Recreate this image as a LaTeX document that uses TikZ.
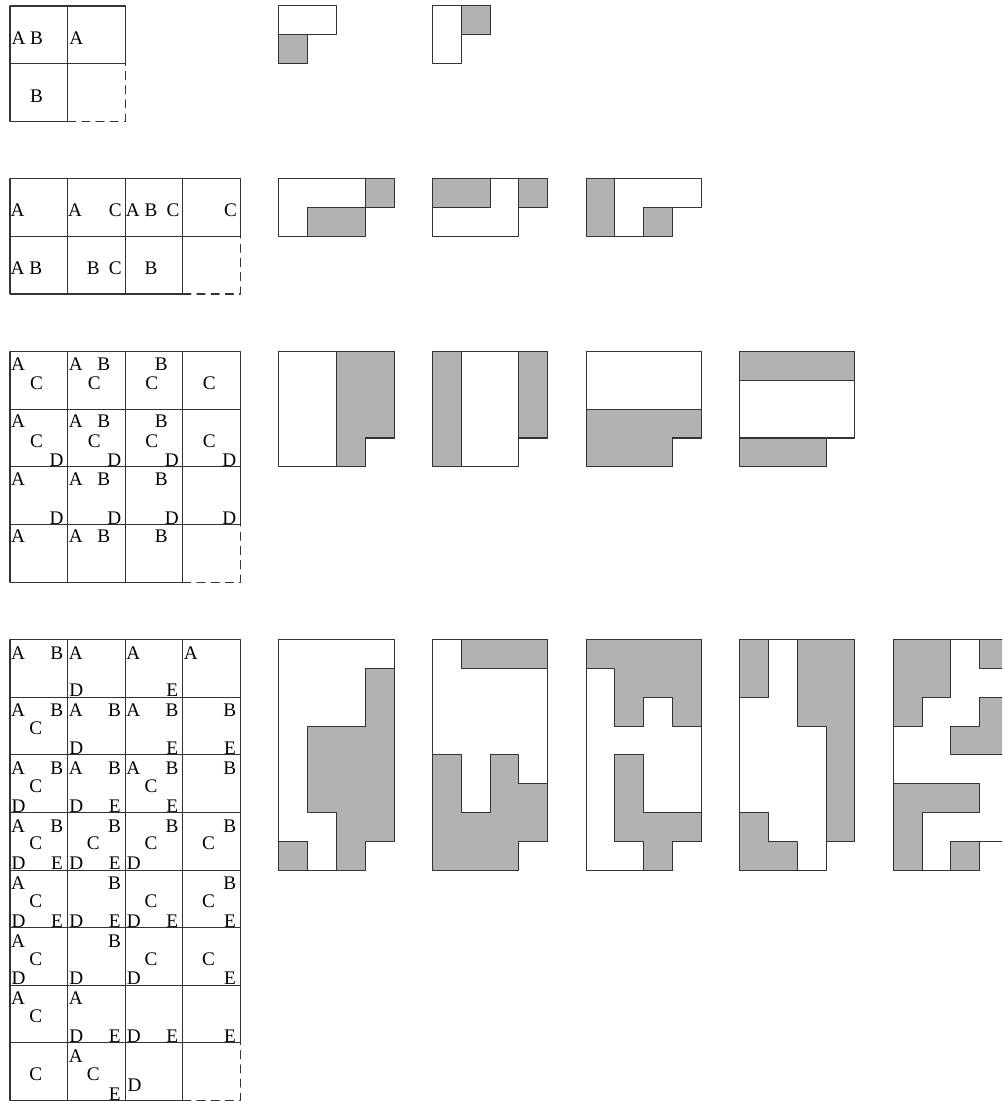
\documentclass[tikz,border=0pt]{standalone}
\usepackage{fontspec}
\setmainfont{Liberation Serif}
\usetikzlibrary{positioning}
\tikzset{
  cell/.style={draw=black!80,line width=0.5pt},
  lastcell/.style={cell,dash pattern=on 4pt off 3pt},
  blank/.style={draw=black!80,fill=white,line width=0.5pt},
  shade/.style={draw=black!80,fill=black!30,line width=0.5pt},
  lt/.style={inner sep=0pt,outer sep=0pt,font=\fontsize{9.5}{11}\selectfont},
  every picture/.style={line cap=round,line join=round}}
% table of w columns and h rows, last cell open and dashed
\newcommand{\chart}[2]{%
  \draw[cell] (0,-#2+1) grid (#1,0) (0,-#2) grid (#1-1,-#2+1);
  \draw[lastcell] (#1-1,-#2)--(#1,-#2)--(#1,-#2+1);}
\begin{document}
\begin{tikzpicture}
  \useasboundingbox (-0.1736,0.104) rectangle (17.222,-19.01);
  \clip (-0.1736,0.104) rectangle (17.222,-19.01);
  % tables
  \begin{scope}[pA/.style={anchor=base west,xshift=0.03cm,yshift=-0.67cm},
                pB/.style={anchor=base west,xshift=0.35cm,yshift=-0.67cm}]
    \chart{2}{2}
    \foreach \r/\c/\s in {0/0/{A,B},0/1/{A},1/0/{B}}
      {\foreach \l in \s {\node[lt,p\l] (ta-\r-\c-\l) at (\c,-\r) {\l};}}
  \end{scope}
  \begin{scope}[yshift=-3cm,
                pA/.style={anchor=base west,xshift=0.01cm,yshift=-0.66cm},
                pB/.style={anchor=base west,xshift=0.335cm,yshift=-0.66cm},
                pC/.style={anchor=base east,xshift=0.94cm,yshift=-0.66cm}]
    \chart{4}{2}
    \foreach \r/\c/\s in {0/0/{A},0/1/{A,C},0/2/{A,B,C},0/3/{C},
                          1/0/{A,B},1/1/{B,C},1/2/{B}}
      {\foreach \l in \s {\node[lt,p\l] (tb-\r-\c-\l) at (\c,-\r) {\l};}}
  \end{scope}
  \begin{scope}[yshift=-6cm,
                pA/.style={anchor=base west,xshift=0.02cm,yshift=-0.32cm},
                pB/.style={anchor=base west,xshift=0.515cm,yshift=-0.32cm},
                pC/.style={anchor=base west,xshift=0.35cm,yshift=-0.66cm},
                pD/.style={anchor=base east,xshift=0.93cm,yshift=-0.995cm}]
    \chart{4}{4}
    \foreach \r/\c/\s in {0/0/{A,C},0/1/{A,B,C},0/2/{B,C},0/3/{C},
                          1/0/{A,C,D},1/1/{A,B,C,D},1/2/{B,C,D},1/3/{C,D},
                          2/0/{A,D},2/1/{A,B,D},2/2/{B,D},2/3/{D},
                          3/0/{A},3/1/{A,B},3/2/{B}}
      {\foreach \l in \s {\node[lt,p\l] (tc-\r-\c-\l) at (\c,-\r) {\l};}}
  \end{scope}
  \begin{scope}[yshift=-11cm,
                pA/.style={anchor=base west,xshift=0.02cm,yshift=-0.34cm},
                pB/.style={anchor=base east,xshift=0.925cm,yshift=-0.34cm},
                pC/.style={anchor=base west,xshift=0.335cm,yshift=-0.65cm},
                pD/.style={anchor=base west,xshift=0.03cm,yshift=-0.995cm},
                pE/.style={anchor=base east,xshift=0.92cm,yshift=-0.995cm}]
    \chart{4}{8}
    \foreach \r/\c/\s in {0/0/{A,B},0/1/{A,D},0/2/{A,E},0/3/{A},
                          1/0/{A,B,C},1/1/{A,B,D},1/2/{A,B,E},1/3/{B,E},
                          2/0/{A,B,C,D},2/1/{A,B,D,E},2/2/{A,B,C,E},2/3/{B},
                          3/0/{A,B,C,D,E},3/1/{B,C,D,E},3/2/{B,C,D},3/3/{B,C},
                          4/0/{A,C,D,E},4/1/{B,D,E},4/2/{C,D,E},4/3/{B,C,E},
                          5/0/{A,C,D},5/1/{B,D},5/2/{C,D},5/3/{C,E},
                          6/0/{A,C},6/1/{A,D,E},6/2/{D,E},6/3/{E},
                          7/0/{C},7/1/{A,C,E}}
      {\foreach \l in \s {\node[lt,p\l] (td-\r-\c-\l) at (\c,-\r) {\l};}}
    \node[lt,anchor=base west] (td-7-2-D) at (2.04,-7.845) {D};
  \end{scope}
  % first row of cuts
  \begin{scope}[xshift=4.6667cm,x=0.5cm,y=-0.5cm]
    \draw[blank] (0,0)--(2,0)--(2,1)--(1,1)--(1,2)--(0,2)--cycle;
    \draw[shade] (0,1) rectangle (1,2);
  \end{scope}
  \begin{scope}[xshift=7.3333cm,x=0.5cm,y=-0.5cm]
    \draw[blank] (0,0)--(2,0)--(2,1)--(1,1)--(1,2)--(0,2)--cycle;
    \draw[shade] (1,0) rectangle (2,1);
  \end{scope}
  % second row
  \begin{scope}[xshift=4.6667cm,yshift=-3cm,x=0.5cm,y=-0.5cm]
    \draw[blank] (0,0)--(4,0)--(4,1)--(3,1)--(3,2)--(0,2)--cycle;
    \draw[shade] (3,0) rectangle (4,1) (1,1) rectangle (3,2);
  \end{scope}
  \begin{scope}[xshift=7.3333cm,yshift=-3cm,x=0.5cm,y=-0.5cm]
    \draw[blank] (0,0)--(4,0)--(4,1)--(3,1)--(3,2)--(0,2)--cycle;
    \draw[shade] (0,0) rectangle (2,1) (3,0) rectangle (4,1);
  \end{scope}
  \begin{scope}[xshift=10cm,yshift=-3cm,x=0.5cm,y=-0.5cm]
    \draw[blank] (0,0)--(4,0)--(4,1)--(3,1)--(3,2)--(0,2)--cycle;
    \draw[shade] (0,0) rectangle (1,2) (2,1) rectangle (3,2);
  \end{scope}
  % third row
  \begin{scope}[xshift=4.6667cm,yshift=-6cm,x=0.5cm,y=-0.5cm]
    \draw[blank] (0,0)--(4,0)--(4,3)--(3,3)--(3,4)--(0,4)--cycle;
    \draw[shade] (2,0)--(4,0)--(4,3)--(3,3)--(3,4)--(2,4)--cycle;
  \end{scope}
  \begin{scope}[xshift=7.3333cm,yshift=-6cm,x=0.5cm,y=-0.5cm]
    \draw[blank] (0,0)--(4,0)--(4,3)--(3,3)--(3,4)--(0,4)--cycle;
    \draw[shade] (0,0) rectangle (1,4) (3,0) rectangle (4,3);
  \end{scope}
  \begin{scope}[xshift=10cm,yshift=-6cm,x=0.5cm,y=-0.5cm]
    \draw[blank] (0,0)--(4,0)--(4,3)--(3,3)--(3,4)--(0,4)--cycle;
    \draw[shade] (0,2)--(4,2)--(4,3)--(3,3)--(3,4)--(0,4)--cycle;
  \end{scope}
  \begin{scope}[xshift=12.6667cm,yshift=-6cm,x=0.5cm,y=-0.5cm]
    \draw[blank] (0,0)--(4,0)--(4,3)--(3,3)--(3,4)--(0,4)--cycle;
    \draw[shade] (0,0) rectangle (4,1) (0,3) rectangle (3,4);
  \end{scope}
  % fourth row
  \begin{scope}[xshift=4.6667cm,yshift=-11cm,x=0.5cm,y=-0.5cm]
    \draw[blank] (0,0)--(4,0)--(4,7)--(3,7)--(3,8)--(0,8)--cycle;
    \draw[shade] (3,1)--(4,1)--(4,7)--(3,7)--(3,8)--(2,8)--(2,6)--(1,6)--(1,3)--(3,3)--cycle
      (0,7) rectangle (1,8);
  \end{scope}
  \begin{scope}[xshift=7.3333cm,yshift=-11cm,x=0.5cm,y=-0.5cm]
    \draw[blank] (0,0)--(4,0)--(4,7)--(3,7)--(3,8)--(0,8)--cycle;
    \draw[shade] (1,0) rectangle (4,1)
      (0,4)--(1,4)--(1,6)--(2,6)--(2,4)--(3,4)--(3,5)--(4,5)--(4,7)--(3,7)--(3,8)--(0,8)--cycle;
  \end{scope}
  \begin{scope}[xshift=10cm,yshift=-11cm,x=0.5cm,y=-0.5cm]
    \draw[blank] (0,0)--(4,0)--(4,7)--(3,7)--(3,8)--(0,8)--cycle;
    \draw[shade] (0,0)--(4,0)--(4,3)--(3,3)--(3,2)--(2,2)--(2,3)--(1,3)--(1,1)--(0,1)--cycle
      (1,4)--(2,4)--(2,6)--(4,6)--(4,7)--(3,7)--(3,8)--(2,8)--(2,7)--(1,7)--cycle;
  \end{scope}
  \begin{scope}[xshift=12.6667cm,yshift=-11cm,x=0.5cm,y=-0.5cm]
    \draw[blank] (0,0)--(4,0)--(4,7)--(3,7)--(3,8)--(0,8)--cycle;
    \draw[shade] (0,0) rectangle (1,2) (2,0)--(4,0)--(4,7)--(3,7)--(3,3)--(2,3)--cycle
      (0,6)--(1,6)--(1,7)--(2,7)--(2,8)--(0,8)--cycle;
  \end{scope}
  \begin{scope}[xshift=15.3333cm,yshift=-11cm,x=0.5cm,y=-0.5cm]
    \draw[blank] (0,0)--(4,0)--(4,7)--(3,7)--(3,8)--(0,8)--cycle;
    \draw[shade] (0,0)--(2,0)--(2,2)--(1,2)--(1,3)--(0,3)--cycle (3,0) rectangle (4,1)
      (3,2)--(4,2)--(4,4)--(2,4)--(2,3)--(3,3)--cycle
      (0,5)--(3,5)--(3,6)--(1,6)--(1,8)--(0,8)--cycle (2,7) rectangle (3,8);
  \end{scope}
\end{tikzpicture}
\end{document}
